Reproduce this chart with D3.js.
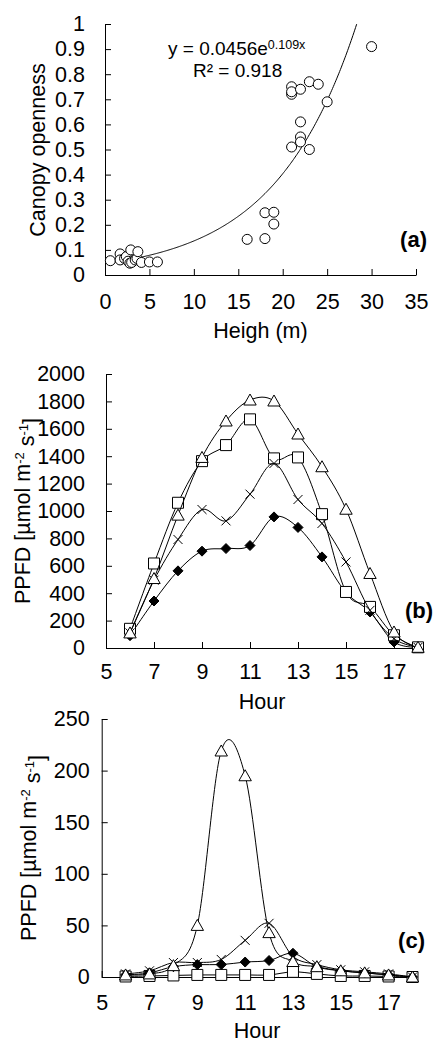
<!DOCTYPE html>
<html>
<head>
<meta charset="utf-8">
<script src="https://cdn.jsdelivr.net/npm/d3@7"></script>
<style>
  body { margin: 0; background: #fff; }
  text { font-family: "Liberation Sans", Arial, sans-serif; fill: #000; }
</style>
</head>
<body>
<div id="chart"></div>
<script>
// panel (a): tree height vs canopy openness
var heights  = [0.6, 1.7, 1.7, 2.2, 2.4, 2.6, 2.8, 2.9, 3.0, 3.4, 3.6, 3.7, 4.1, 5.0, 5.9,
                16, 18, 18, 19, 19, 21, 21, 21, 21, 22, 22, 22, 22, 23, 23, 24, 25, 30];
var openness = [0.057, 0.084, 0.06, 0.066, 0.073, 0.055, 0.047, 0.1, 0.05, 0.06, 0.066, 0.093, 0.05, 0.052, 0.052,
                0.142, 0.248, 0.145, 0.25, 0.203, 0.75, 0.72, 0.73, 0.51, 0.74, 0.61, 0.55, 0.53, 0.77, 0.50, 0.76, 0.69, 0.91];
var fitA = 0.0456, fitB = 0.109;

// panels (b) and (c): hourly PPFD
var hours = [6, 7, 8, 9, 10, 11, 12, 13, 14, 15, 16, 17, 18];
var bDiamond  = [90, 343, 563, 707, 726, 748, 957, 880, 665, 405, 263, 44, 5];
var bSquare   = [140, 617, 1060, 1364, 1481, 1669, 1384, 1391, 977, 409, 300, 93, 5];
var bTriangle = [110, 507, 970, 1391, 1657, 1810, 1803, 1562, 1323, 1013, 544, 117, 5];
var bCross    = [110, 495, 792, 1011, 928, 1123, 1347, 1084, 909, 628, 275, 68, 5];

var cDiamond  = [2, 4, 10, 12, 12, 14.5, 16, 23, 10, 6, 4, 2, 0];
var cSquare   = [0.5, 1, 1.5, 2, 2, 2, 2, 5, 3, 1, 1, 0.5, 0];
var cTriangle = [2, 3, 11, 50, 219, 195, 43, 15, 10, 6, 4, 2, 0];
var cCross    = [3, 6, 14, 14, 17, 35.5, 52, 20, 12, 7, 5, 3, 0];

var hourTicks = [5, 7, 9, 11, 13, 15, 17];

var width = 435, height = 1042;
var fs = 21.5;

var svg = d3.select("#chart").append("svg")
    .attr("width", width)
    .attr("height", height);

// marker shapes
var markers = {
    diamond: "M0,-5L5,0L0,5L-5,0Z",
    square: "M-5.5,-5.5h11v11h-11Z",
    triangle: "M0,-6L6.2,5L-6.2,5Z",
    cross: "M-4.5,-4.5L4.5,4.5M-4.5,4.5L4.5,-4.5"
};

function styleAxis(g) {
    g.selectAll("path, line").attr("stroke", "#000").attr("stroke-width", 1);
    g.selectAll("text").style("font-size", fs + "px").attr("fill", "#000")
        .style("font-family", "'Liberation Sans', Arial, sans-serif");
}

function yTitle(x, y, parts) {
    var t = svg.append("text")
        .attr("transform", "translate(" + x + "," + y + ") rotate(-90)")
        .attr("text-anchor", "middle")
        .style("font-size", fs + "px");
    parts.forEach(function (p) {
        var s = t.append("tspan").text(p.t);
        if (p.sup) s.attr("dy", "-0.45em").style("font-size", "13px");
        if (p.down) s.attr("dy", "0.45em");
    });
}

function ppfdParts() {
    return [
        {t: "PPFD [µmol m"}, {t: "-2", sup: true}, {t: " s", down: true},
        {t: "-1", sup: true}, {t: "]", down: true}
    ];
}

// ---------- panel (a) ----------
var xA = d3.scaleLinear().domain([0, 35]).range([105, 416]);
var yA = d3.scaleLinear().domain([0, 1]).range([275, 24]);

svg.append("g")
    .attr("transform", "translate(0," + yA(0) + ")")
    .call(d3.axisBottom(xA).tickValues(d3.range(0, 36, 5)).tickSizeInner(-6).tickSizeOuter(0).tickPadding(19))
    .call(styleAxis);

svg.append("g")
    .attr("transform", "translate(" + xA(0) + ",0)")
    .call(d3.axisLeft(yA).tickValues(d3.range(0, 11).map(function (i) { return i / 10; }))
        .tickFormat(function (d) { return d === 0 ? "0" : d === 1 ? "1" : d3.format(".1f")(d); })
        .tickSizeInner(-6).tickSizeOuter(0).tickPadding(20))
    .call(styleAxis);

var xMax = Math.log(1 / fitA) / fitB;
var fitPts = d3.range(0.6, xMax, 0.1).concat([xMax]);
svg.append("path")
    .datum(fitPts)
    .attr("fill", "none")
    .attr("stroke", "#000")
    .attr("stroke-width", 1)
    .attr("d", d3.line()
        .x(function (d) { return xA(d); })
        .y(function (d) { return yA(fitA * Math.exp(fitB * d)); }));

svg.selectAll(".ptA")
    .data(heights)
    .enter().append("circle")
    .attr("class", "ptA")
    .attr("cx", function (d) { return xA(d); })
    .attr("cy", function (d, i) { return yA(openness[i]); })
    .attr("r", 5)
    .attr("fill", "#fff")
    .attr("stroke", "#000")
    .attr("stroke-width", 1);

var eq = svg.append("text").attr("x", 168).attr("y", 55).style("font-size", "19px");
eq.append("tspan").text("y = 0.0456e");
eq.append("tspan").attr("dy", "-0.45em").style("font-size", "12.5px").text("0.109x");
var r2 = svg.append("text").attr("x", 193).attr("y", 77).style("font-size", "19px");
r2.append("tspan").text("R² = 0.918");

svg.append("text").attr("x", 427).attr("y", 247).attr("text-anchor", "end")
    .style("font-size", "22px").style("font-weight", "bold").text("(a)");

yTitle(45, 150, [{t: "Canopy openness"}]);
svg.append("text").attr("x", xA(17.5)).attr("y", 338).attr("text-anchor", "middle")
    .style("font-size", fs + "px").text("Heigh (m)");

// ---------- hourly panels ----------
function hourPanel(x, y, series, yTicks, yPad, xPad) {
    svg.append("g")
        .attr("transform", "translate(0," + y(0) + ")")
        .call(d3.axisBottom(x).tickValues(hourTicks).tickSizeInner(-6).tickSizeOuter(0).tickPadding(xPad))
        .call(styleAxis);

    svg.append("g")
        .attr("transform", "translate(" + x(5) + ",0)")
        .call(d3.axisLeft(y).tickValues(yTicks).tickFormat(d3.format("d"))
            .tickSizeInner(-6).tickSizeOuter(0).tickPadding(yPad))
        .call(styleAxis);

    var line = d3.line()
        .x(function (d, i) { return x(hours[i]); })
        .y(function (d) { return y(d); })
        .curve(d3.curveCatmullRom.alpha(0));

    series.forEach(function (s) {
        svg.append("path")
            .datum(s.values)
            .attr("fill", "none")
            .attr("stroke", "#000")
            .attr("stroke-width", 1)
            .attr("d", line);

        svg.selectAll(null)
            .data(s.values)
            .enter().append("path")
            .attr("transform", function (d, i) { return "translate(" + x(hours[i]) + "," + y(d) + ")"; })
            .attr("d", markers[s.shape])
            .attr("fill", s.shape === "diamond" ? "#000" : (s.shape === "cross" ? "none" : "#fff"))
            .attr("stroke", "#000")
            .attr("stroke-width", 1);
    });
}

// panel (b)
var xB = d3.scaleLinear().domain([5, 18]).range([106, 418]);
var yB = d3.scaleLinear().domain([0, 2000]).range([648, 374]);
hourPanel(xB, yB, [
    {shape: "diamond", values: bDiamond},
    {shape: "square", values: bSquare},
    {shape: "cross", values: bCross},
    {shape: "triangle", values: bTriangle}
], d3.range(0, 2001, 200), 21, 16);

svg.append("text").attr("x", 433).attr("y", 618).attr("text-anchor", "end")
    .style("font-size", "22px").style("font-weight", "bold").text("(b)");
yTitle(30, 511, ppfdParts());
svg.append("text").attr("x", xB(11.5)).attr("y", 709).attr("text-anchor", "middle")
    .style("font-size", fs + "px").text("Hour");

// panel (c)
var xC = d3.scaleLinear().domain([5, 18]).range([101.7, 412.5]);
var yC = d3.scaleLinear().domain([0, 250]).range([977, 719]);
hourPanel(xC, yC, [
    {shape: "square", values: cSquare},
    {shape: "diamond", values: cDiamond},
    {shape: "cross", values: cCross},
    {shape: "triangle", values: cTriangle}
], d3.range(0, 251, 50), 12, 18);

svg.append("text").attr("x", 425).attr("y", 948).attr("text-anchor", "end")
    .style("font-size", "22px").style("font-weight", "bold").text("(c)");
yTitle(36, 848, ppfdParts());
svg.append("text").attr("x", xC(11.5)).attr("y", 1038).attr("text-anchor", "middle")
    .style("font-size", fs + "px").text("Hour");
</script>
</body>
</html>
